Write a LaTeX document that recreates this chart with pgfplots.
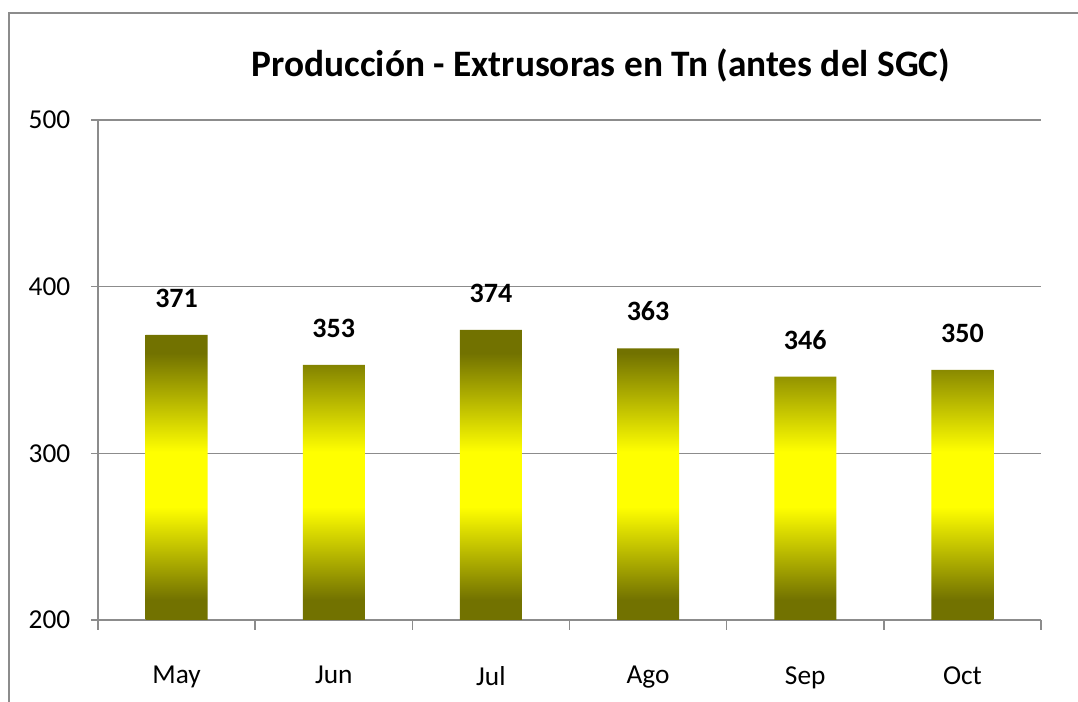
\documentclass[border=0pt]{standalone}
\usepackage{pgfplots}
\pgfplotsset{compat=1.18}
\usepackage{fontspec}
\setmainfont{Carlito}
\definecolor{olivebar}{HTML}{727200}
\definecolor{gridgray}{HTML}{8C8C8C}
\pgfdeclareverticalshading{barshade}{100bp}{color(0bp)=(olivebar); color(28.5bp)=(olivebar); color(44.5bp)=(yellow); color(54bp)=(yellow); color(71bp)=(olivebar); color(100bp)=(olivebar)}
\begin{document}
\begin{tikzpicture}[x=0.75pt,y=0.75pt]
\path[use as bounding box] (0,0) rectangle (1078,702);
\draw[gridgray, line width=1.5pt] (9,-5) -- (9,689) -- (1085,689);
\node[font=\bfseries\fontsize{28}{33}\selectfont, anchor=center] at (601,637) {Producción - Extrusoras en Tn (antes del SGC)};
\begin{axis}[
  at={(73.5pt,61.5pt)}, anchor=south west,
  scale only axis, width=707.25pt, height=375pt,
  xmin=-0.5, xmax=5.5, ymin=200, ymax=500,
  axis x line*=bottom, axis y line*=left,
  axis line style={gridgray, line width=1.2pt, -},
  xtick={-0.5,0.5,...,5.5},
  x tick label as interval,
  xticklabels={May,Jun,Jul,Ago,Sep,Oct},
  ytick={200,300,400,500},
  tick align=outside,
  xtick style={gridgray, line width=1.2pt, /pgfplots/major tick length=7.5pt},
  ytick style={gridgray, line width=1.2pt, /pgfplots/major tick length=5pt},
  ymajorgrids, grid style={gridgray, line width=1.2pt},
  /pgf/number format/assume math mode=true,
  ticklabel style={font=\fontsize{20.5}{24}\selectfont, text=black},
  xticklabel style={yshift=-27pt},
  yticklabel style={xshift=-13pt},
  nodes near coords,
  every node near coord/.append style={font=\bfseries\fontsize{21}{25}\selectfont, text=black, yshift=17pt},
]
\addplot[ybar, bar width=46.5pt, draw=none, shading=barshade, shade]
  coordinates {(0,371) (1,353) (2,374) (3,363) (4,346) (5,350)};
\end{axis}
\end{tikzpicture}
\end{document}
